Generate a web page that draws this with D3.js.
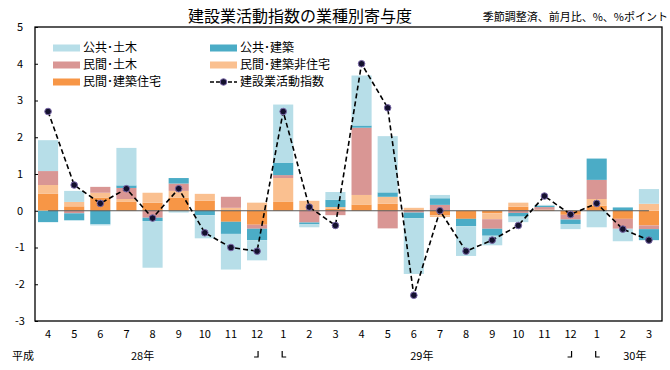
<!DOCTYPE html>
<html>
<head>
<meta charset="utf-8">
<script src="https://cdn.jsdelivr.net/npm/d3@7"></script>
<style>
  body { margin: 0; background: #fff; }
  svg text { font-family: "Noto Sans CJK JP", "Noto Sans", sans-serif; fill: #000; }
</style>
</head>
<body>
<div id="chart"></div>
<script>
// months 平成28年4月 - 平成30年3月
var months = ["4","5","6","7","8","9","10","11","12","1","2","3","4","5","6","7","8","9","10","11","12","1","2","3"];

// contributions (%pt)
var jutaku     = [0.46,0.12,0.35,0.24,0.22,0.36,0.27,-0.30,-0.38,0.24,0.00,0.05,0.17,0.19,0.00,-0.12,-0.22,-0.07,0.11,0.03,-0.11,0.14,-0.22,-0.40];
var hijutaku   = [0.24,0.12,0.14,0.08,0.27,0.18,0.19,0.08,0.22,0.65,0.27,0.05,0.26,0.19,0.08,-0.05,0.00,-0.16,0.11,0.00,0.00,0.18,0.00,0.19];
var minDoboku  = [0.38,-0.07,0.16,0.30,-0.19,0.20,0.00,0.30,-0.11,0.08,-0.32,-0.12,1.83,-0.48,-0.05,0.16,0.00,-0.26,-0.06,0.07,-0.13,0.52,-0.27,-0.10];
var koKenchiku = [-0.31,-0.19,-0.37,0.07,-0.09,0.15,-0.12,-0.33,-0.31,0.34,-0.05,0.20,0.06,0.12,-0.15,0.18,-0.20,-0.19,-0.10,0.03,-0.12,0.58,0.09,-0.30];
var koDoboku   = [0.84,0.30,-0.03,1.02,-1.27,-0.05,-0.63,-0.97,-0.55,1.58,-0.08,0.21,1.36,1.53,-1.52,0.09,-0.81,-0.26,-0.15,0.03,-0.14,-0.45,-0.34,0.40];

// 建設業活動指数
var index = [2.7,0.7,0.2,0.6,-0.2,0.6,-0.6,-1.0,-1.1,2.7,0.1,-0.4,4.0,2.8,-2.3,0.0,-1.1,-0.8,-0.4,0.4,-0.1,0.2,-0.5,-0.8];

var yTicks = [5,4,3,2,1,0,-1,-2,-3];

var seriesNames = ["民間･建築住宅","民間･建築非住宅","民間･土木","公共･建築","公共･土木"];
var seriesColors = ["#f79646","#fac090","#d99694","#4bacc6","#b7dee8"];
var seriesValues = [jutaku, hijutaku, minDoboku, koKenchiku, koDoboku];

(function() {
    var width = 670, height = 370;
    var plotLeft = 35, plotRight = 662, plotTop = 27, plotBottom = 321;

    var rows = months.map(function(m, i) {
        var r = { i: i };
        seriesNames.forEach(function(n, k) { r[n] = seriesValues[k][i]; });
        return r;
    });

    var svg = d3.select("#chart").append("svg")
        .attr("width", width)
        .attr("height", height);

    var x = d3.scaleBand()
        .domain(d3.range(months.length))
        .range([plotLeft, plotRight])
        .paddingInner(0.23)
        .paddingOuter(0.115);

    var y = d3.scaleLinear().domain([-3, 5]).range([plotBottom, plotTop]);

    var stack = d3.stack().keys(seriesNames).offset(d3.stackOffsetDiverging);
    var layers = stack(rows);

    svg.append("g").selectAll("g")
        .data(layers)
        .enter().append("g")
        .attr("fill", function(d, k) { return seriesColors[k]; })
        .selectAll("rect")
        .data(function(d) { return d; })
        .enter().append("rect")
        .attr("x", function(d) { return x(d.data.i); })
        .attr("width", x.bandwidth())
        .attr("y", function(d) { return y(Math.max(d[0], d[1])); })
        .attr("height", function(d) { return Math.abs(y(d[0]) - y(d[1])); });

    // zero line
    svg.append("line")
        .attr("x1", x(0) + x.bandwidth() / 2)
        .attr("x2", x(months.length - 1) + x.bandwidth() / 2)
        .attr("y1", y(0)).attr("y2", y(0))
        .attr("stroke", "#595959").attr("stroke-width", 1);

    // frame
    svg.append("rect")
        .attr("x", plotLeft).attr("y", plotTop)
        .attr("width", plotRight - plotLeft).attr("height", plotBottom - plotTop)
        .attr("fill", "none").attr("stroke", "#000").attr("stroke-width", 1.3);

    // y axis (ticks inside)
    var yAxis = d3.axisRight(y).tickValues(yTicks).tickSize(3).tickFormat("");
    svg.append("g")
        .attr("transform", "translate(" + plotLeft + ",0)")
        .call(yAxis)
        .call(function(g) { g.select(".domain").remove(); })
        .call(function(g) { g.selectAll("line").attr("stroke", "#000"); });

    svg.append("g").selectAll("text")
        .data(yTicks)
        .enter().append("text")
        .attr("x", 20)
        .attr("y", function(d) { return y(d); })
        .attr("dy", "0.35em")
        .attr("text-anchor", "middle")
        .attr("font-size", 11)
        .text(function(d) { return d; });

    // x labels
    svg.append("g").selectAll("text")
        .data(months)
        .enter().append("text")
        .attr("x", function(d, i) { return x(i) + x.bandwidth() / 2; })
        .attr("y", 338)
        .attr("text-anchor", "middle")
        .attr("font-size", 11)
        .text(function(d) { return d; });

    var yearRow = 360;
    svg.append("text").attr("x", 12).attr("y", yearRow).attr("font-size", 11).text("平成");
    svg.append("text").attr("x", x(2) + x.bandwidth() * 2.6).attr("y", yearRow).attr("text-anchor", "middle").attr("font-size", 11).text("28年");
    svg.append("text").attr("x", x(14) + x.bandwidth() * 0.9).attr("y", yearRow).attr("text-anchor", "middle").attr("font-size", 11).text("29年");
    svg.append("text").attr("x", x(22) + x.bandwidth() * 1.1).attr("y", yearRow).attr("text-anchor", "middle").attr("font-size", 11).text("30年");

    // year brackets
    [8, 20].forEach(function(i) {
        var cx = x(i) + x.bandwidth() / 2;
        svg.append("path")
            .attr("d", "M" + (cx - 3) + "," + (yearRow - 3) + "H" + (cx + 1) + "V" + (yearRow - 9))
            .attr("fill", "none").attr("stroke", "#000").attr("stroke-width", 1.2);
        var cx2 = x(i + 1) + x.bandwidth() / 2;
        svg.append("path")
            .attr("d", "M" + (cx2 - 1) + "," + (yearRow - 9) + "V" + (yearRow - 3) + "H" + (cx2 + 3))
            .attr("fill", "none").attr("stroke", "#000").attr("stroke-width", 1.2);
    });

    // index line
    var line = d3.line()
        .x(function(d, i) { return x(i) + x.bandwidth() / 2; })
        .y(function(d) { return y(d); });

    svg.append("path")
        .datum(index)
        .attr("d", line)
        .attr("fill", "none")
        .attr("stroke", "#000")
        .attr("stroke-width", 1.6)
        .attr("stroke-dasharray", "5,3");

    svg.append("g").selectAll("circle")
        .data(index)
        .enter().append("circle")
        .attr("cx", function(d, i) { return x(i) + x.bandwidth() / 2; })
        .attr("cy", function(d) { return y(d); })
        .attr("r", 3.3)
        .attr("fill", "#14112e")
        .attr("stroke", "#7a68a8")
        .attr("stroke-width", 1);

    // titles
    svg.append("text")
        .attr("x", 300).attr("y", 22)
        .attr("text-anchor", "middle")
        .attr("font-size", 16)
        .text("建設業活動指数の業種別寄与度");

    svg.append("text")
        .attr("x", 668).attr("y", 21)
        .attr("text-anchor", "end")
        .attr("font-size", 11)
        .text("季節調整済、前月比、%、%ポイント");

    // legend
    var legendItems = [
        { name: "公共･土木", color: "#b7dee8", x: 53, y: 48 },
        { name: "公共･建築", color: "#4bacc6", x: 210, y: 48 },
        { name: "民間･土木", color: "#d99694", x: 53, y: 65 },
        { name: "民間･建築非住宅", color: "#fac090", x: 210, y: 65 },
        { name: "民間･建築住宅", color: "#f79646", x: 53, y: 82 }
    ];

    var legend = svg.append("g");
    legendItems.forEach(function(it) {
        legend.append("rect")
            .attr("x", it.x).attr("y", it.y - 3.5)
            .attr("width", 27).attr("height", 7)
            .attr("fill", it.color);
        legend.append("text")
            .attr("x", it.x + 30).attr("y", it.y)
            .attr("dy", "0.35em")
            .attr("font-size", 12)
            .text(it.name);
    });

    legend.append("line")
        .attr("x1", 210).attr("x2", 237)
        .attr("y1", 82).attr("y2", 82)
        .attr("stroke", "#000").attr("stroke-width", 1.6)
        .attr("stroke-dasharray", "4,2");
    legend.append("circle")
        .attr("cx", 223.5).attr("cy", 82).attr("r", 3.3)
        .attr("fill", "#14112e").attr("stroke", "#7a68a8");
    legend.append("text")
        .attr("x", 240).attr("y", 82)
        .attr("dy", "0.35em")
        .attr("font-size", 12)
        .text("建設業活動指数");
})();
</script>
</body>
</html>
